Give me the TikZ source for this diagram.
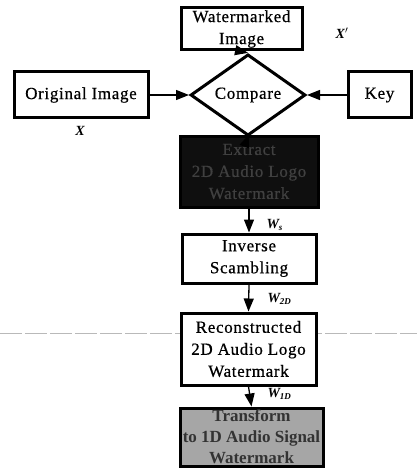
\documentclass[tikz,border=0pt]{standalone}
\usepackage{fontspec}
\setmainfont{Liberation Serif}
\usetikzlibrary{shapes.geometric,arrows.meta}
\tikzset{
  x=1pt, y=-1pt,
  box/.style={draw=black, line width=3pt, align=center, inner sep=0pt,
    font=\fontsize{17}{22}\selectfont\addfontfeatures{LetterSpace=4,FakeBold=0.6}},
  lbl/.style={font=\fontsize{14}{16}\selectfont\bfseries\itshape},
  conn/.style={line width=1.3pt, -{Triangle[length=13pt,width=10pt]}},
}
\begin{document}
\begin{tikzpicture}
\useasboundingbox (0,0) rectangle (417,468);
% scan artefact line
\draw[gray!55, line width=0.6pt, dash pattern=on 22pt off 3pt] (0,333) -- (417,333);

\node[box, minimum width=121pt, minimum height=42pt] (wm) at (241.5,29) {Watermarked\\Image};
\node[draw=black, line width=3pt, shape=diamond, minimum width=115pt, minimum height=54pt,
      inner sep=0pt, font=\fontsize{17}{22}\selectfont\addfontfeatures{LetterSpace=4,FakeBold=0.6}, fill=white] (cmp) at (248,95) {Compare};
\node[box, minimum width=134pt, minimum height=46pt] (orig) at (81,95) {Original Image};
\node[box, minimum width=63pt, minimum height=46pt] (key) at (379.5,95) {Key};
\node[box, fill=black!94, text=black!75, minimum width=138pt, minimum height=71pt] (ext) at (249,171.5) {Extract\\2D Audio Logo\\Watermark};
\node[box, fill=white, minimum width=134pt, minimum height=49pt] (inv) at (249,258.5) {Inverse\\Scambling};
\node[box, fill=white, minimum width=135pt, minimum height=72pt] (rec) at (248.5,349) {Reconstructed\\2D Audio Logo\\Watermark};
\node[box, fill=black!35, text=black!80, minimum width=143pt, minimum height=58pt,
      font=\fontsize{17}{21}\selectfont\bfseries] (tr) at (251.5,437) {Transform\\to 1D Audio Signal\\Watermark};

\draw[conn] (orig.east) -- (cmp.west);
\draw[conn] (key.west) -- (cmp.east);
\draw[conn] (wm.south) -- (cmp.north);
\draw[conn] (cmp.south) -- (ext.north);
\draw[conn] (ext.south) -- (inv.north);
\draw[conn] (inv.south) -- (rec.north);
\draw[conn] (rec.south) -- (tr.north);

\node[lbl] (lx) at (80,131) {X};
\node[lbl] (lxp) at (342,33) {X$'$};
\node[lbl, anchor=west] (lws) at (263,225) {W\textsubscript{\fontsize{9}{10}\selectfont s}};
\node[lbl, anchor=west] (lw2) at (264,299) {W\textsubscript{\fontsize{9}{10}\selectfont 2D}};
\node[lbl, anchor=west] (lw1) at (264,394) {W\textsubscript{\fontsize{9}{10}\selectfont 1D}};
\end{tikzpicture}
\end{document}
